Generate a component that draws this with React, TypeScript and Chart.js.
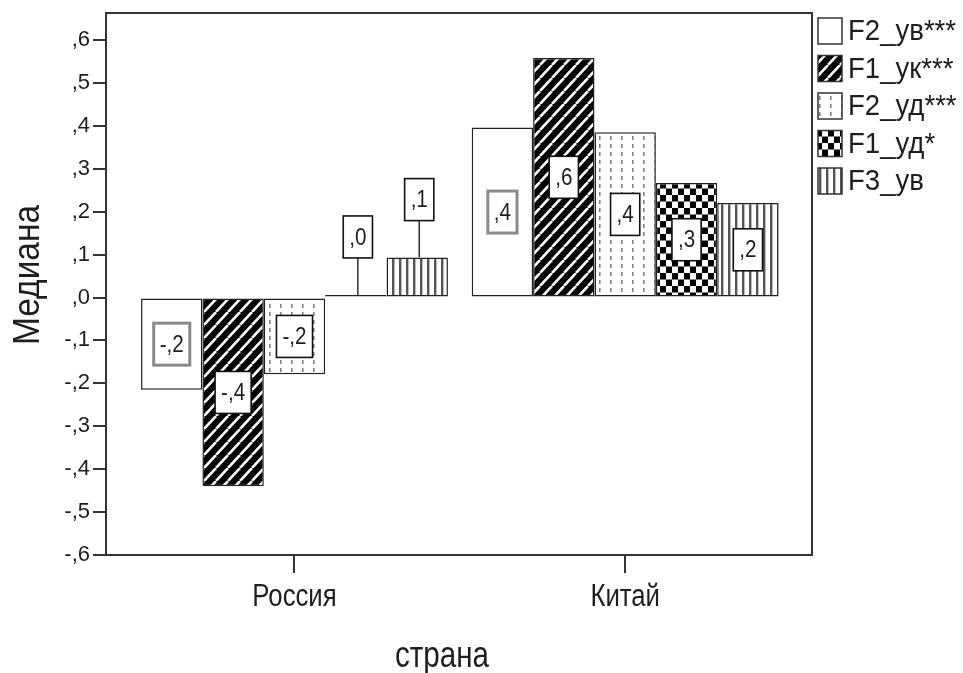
import React, { useEffect, useRef } from 'react';
import { Chart, registerables } from 'chart.js';

Chart.register(...registerables);

// ---- data ----
const categories = ['Россия', 'Китай'];
const seriesNames = ['F2_ув***', 'F1_ук***', 'F2_уд***', 'F1_уд*', 'F3_ув'];
const f2Uv = [-0.215, 0.396];
const f1Uk = [-0.44, 0.558];
const f2Ud = [-0.179, 0.385];
const f1Ud = [0.006, 0.267];
const f3Uv = [0.093, 0.22];
const yTickValues = [-0.6, -0.5, -0.4, -0.3, -0.2, -0.1, 0, 0.1, 0.2, 0.3, 0.4, 0.5, 0.6];
const yMin = -0.6;
const yMax = 0.663;
const xTitle = 'страна';
const yTitle = 'Медиана';

const seriesValues = [f2Uv, f1Uk, f2Ud, f1Ud, f3Uv];

const FONT = '"Liberation Sans", Arial, sans-serif';
const TEXT = '#1e1e1e';
const LINE = '#333333';

function fmt(v: number): string {
  const r = Math.round(Math.abs(v) * 10);
  return (v < 0 && r > 0 ? '-' : '') + ',' + r;
}

// draws horizontally condensed text (the original uses a narrow face)
function drawText(
  ctx: CanvasRenderingContext2D,
  txt: string,
  x: number,
  y: number,
  size: number,
  sx: number,
  align: CanvasTextAlign,
  rot = 0,
) {
  ctx.save();
  ctx.translate(x, y);
  if (rot) ctx.rotate(rot);
  ctx.scale(sx, 1);
  ctx.font = `${size}px ${FONT}`;
  ctx.textAlign = align;
  ctx.textBaseline = 'middle';
  ctx.fillStyle = TEXT;
  ctx.fillText(txt, 0, 0);
  ctx.restore();
}

function makePattern(ctx: CanvasRenderingContext2D, w: number, h: number, draw: (g: CanvasRenderingContext2D, w: number, h: number) => void) {
  const c = document.createElement('canvas');
  c.width = w;
  c.height = h;
  const g = c.getContext('2d')!;
  draw(g, w, h);
  return ctx.createPattern(c, 'repeat')!;
}

function buildFills(ctx: CanvasRenderingContext2D) {
  const white = '#ffffff';
  const diag = makePattern(ctx, 12, 13, (g, w, h) => {
    g.fillStyle = '#000';
    g.fillRect(0, 0, w, h);
    g.strokeStyle = '#fff';
    g.lineWidth = 2.6;
    for (const k of [-w, 0, w]) {
      g.beginPath();
      g.moveTo(k, h);
      g.lineTo(k + w, 0);
      g.stroke();
    }
  });
  const dotted = makePattern(ctx, 11, 8, (g, w, h) => {
    g.fillStyle = '#fff';
    g.fillRect(0, 0, w, h);
    g.fillStyle = '#808080';
    g.fillRect(5, 0, 1.6, 4);
  });
  const checker = makePattern(ctx, 12, 13, (g, w, h) => {
    g.fillStyle = '#fff';
    g.fillRect(0, 0, w, h);
    g.fillStyle = '#000';
    g.fillRect(0, 0, 6, 6.5);
    g.fillRect(6, 6.5, 6, 6.5);
  });
  const vstripes = makePattern(ctx, 7, 10, (g, w, h) => {
    g.fillStyle = '#fff';
    g.fillRect(0, 0, w, h);
    g.fillStyle = '#555';
    g.fillRect(0, 0, 2.4, h);
  });
  return [white, diag, dotted, checker, vstripes];
}

const labelBorderColors = ['#8a8a8a', '#111', '#111', '#111', '#111'];
const labelBorderWidths = [3, 1.6, 1.6, 1.6, 1.6];

const framePlugin = {
  id: 'frame',
  afterDraw(chart: any) {
    const { ctx, chartArea: a } = chart;
    ctx.save();
    ctx.strokeStyle = LINE;
    ctx.lineWidth = 2;
    ctx.strokeRect(a.left, a.top, a.right - a.left, a.bottom - a.top);
    ctx.restore();
  },
};

const axisTextPlugin = {
  id: 'axisText',
  afterDraw(chart: any) {
    const { ctx, chartArea: a } = chart;
    const xs = chart.scales.x;
    categories.forEach((c, i) => {
      drawText(ctx, c, xs.getPixelForValue(i), a.bottom + 42, 31, 0.83, 'center');
    });
    drawText(ctx, xTitle, (a.left + a.right) / 2 - 17, a.bottom + 102, 37, 0.8, 'center');
    drawText(ctx, yTitle, 29, (a.top + a.bottom) / 2 - 9, 36, 0.93, 'center', -Math.PI / 2);
  },
};

const labelPlugin = {
  id: 'barLabels',
  afterDatasetsDraw(chart: any) {
    const { ctx } = chart;
    const size = 24;
    const sx = 0.86;
    chart.data.datasets.forEach((ds: any, di: number) => {
      const meta = chart.getDatasetMeta(di);
      meta.data.forEach((bar: any, i: number) => {
        const v = seriesValues[di][i];
        const txt = fmt(v);
        ctx.save();
        ctx.font = `${size}px ${FONT}`;
        const tw = ctx.measureText(txt).width * sx;
        ctx.restore();
        const bw = tw + 12;
        const bh = 42;
        const top = Math.min(bar.y, bar.base);
        const bottom = Math.max(bar.y, bar.base);
        let cx = bar.x;
        let cy = (top + bottom) / 2;
        ctx.save();
        if (bottom - top < bh + 6) {
          cy = top - 37 - bh / 2;
          cx = bar.x + 2;
          ctx.strokeStyle = '#111';
          ctx.lineWidth = 1.3;
          ctx.beginPath();
          ctx.moveTo(cx, cy + bh / 2);
          ctx.lineTo(cx, top);
          ctx.stroke();
        }
        ctx.fillStyle = '#fff';
        ctx.fillRect(cx - bw / 2, cy - bh / 2, bw, bh);
        ctx.strokeStyle = labelBorderColors[di];
        ctx.lineWidth = labelBorderWidths[di];
        ctx.strokeRect(cx - bw / 2, cy - bh / 2, bw, bh);
        ctx.restore();
        drawText(ctx, txt, cx, cy + 1, size, sx, 'center');
      });
    });
  },
};

const legendPlugin = {
  id: 'sideLegend',
  afterDraw(chart: any) {
    const { ctx, chartArea: a } = chart;
    chart.data.datasets.forEach((ds: any, i: number) => {
      const x = a.right + 6;
      const y = a.top + 5 + i * 37.5;
      ctx.save();
      ctx.fillStyle = ds.backgroundColor;
      ctx.fillRect(x, y, 24, 26);
      ctx.strokeStyle = LINE;
      ctx.lineWidth = 1.5;
      ctx.strokeRect(x, y, 24, 26);
      ctx.restore();
      drawText(ctx, ds.label, x + 30, y + 14, 29, 0.95, 'left');
    });
  },
};

export default function App() {
  const ref = useRef<HTMLCanvasElement | null>(null);

  useEffect(() => {
    const canvas = ref.current!;
    const ctx = canvas.getContext('2d')!;
    const fills = buildFills(ctx);
    const chart = new Chart(canvas, {
      type: 'bar',
      data: {
        datasets: seriesNames.map((name, si) => ({
          label: name,
          data: seriesValues[si].map((v, ci) => ({ x: ci, y: v })),
          backgroundColor: fills[si] as any,
          borderColor: '#222',
          borderWidth: 1.5,
          borderSkipped: false,
          categoryPercentage: 0.928,
          barPercentage: 1.0,
        })),
      },
      options: {
        responsive: false,
        animation: false,
        events: [],
        layout: { padding: { top: 13, right: 151, bottom: 0, left: 0 } },
        plugins: { legend: { display: false }, tooltip: { enabled: false } },
        scales: {
          x: {
            type: 'linear',
            min: -0.57,
            max: 1.565,
            offset: false,
            border: { display: false },
            grid: { display: true, offset: false, drawOnChartArea: false, drawTicks: true, tickLength: 18, color: LINE, lineWidth: 2 },
            afterBuildTicks: (scale: any) => {
              scale.ticks = categories.map((_, i) => ({ value: i }));
            },
            afterFit: (scale: any) => {
              scale.height = 118;
              scale.paddingLeft = 0;
              scale.paddingRight = 0;
            },
            ticks: { display: false },
            title: { display: false },
          },
          y: {
            type: 'linear',
            min: yMin,
            max: yMax,
            border: { display: false },
            grid: { display: true, drawOnChartArea: false, drawTicks: true, tickLength: 13, color: LINE, lineWidth: 2 },
            afterBuildTicks: (scale: any) => {
              scale.ticks = yTickValues.map((v) => ({ value: v }));
            },
            afterFit: (scale: any) => {
              scale.width = 106;
              scale.paddingTop = 0;
              scale.paddingBottom = 0;
            },
            ticks: {
              autoSkip: false,
              padding: 3,
              color: TEXT,
              font: { family: FONT, size: 22 },
              callback: (v: any) => fmt(Number(v)),
            },
            title: { display: false },
          },
        },
      },
      plugins: [labelPlugin, framePlugin, axisTextPlugin, legendPlugin],
    });
    return () => chart.destroy();
  }, []);

  return (
    <div style={{ position: 'fixed', left: 0, top: 0, width: 963, height: 673, background: '#fff' }}>
      <canvas ref={ref} width={963} height={673} style={{ display: 'block' }} />
    </div>
  );
}
